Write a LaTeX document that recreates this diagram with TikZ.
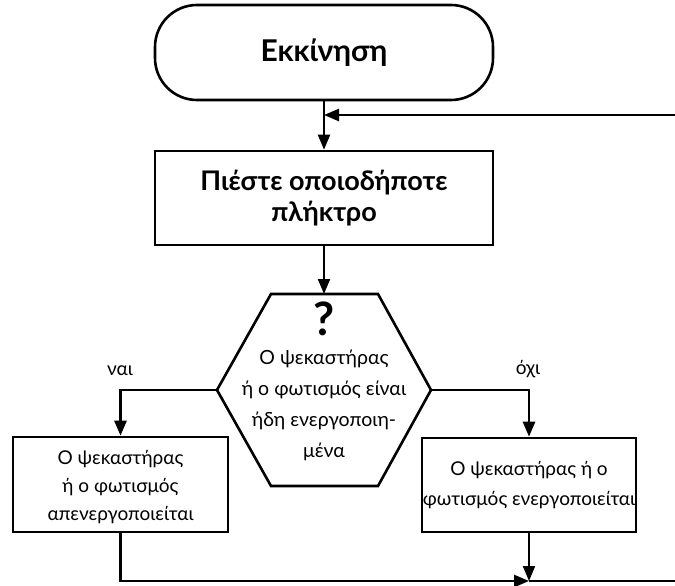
\documentclass[tikz,border=0pt]{standalone}
\usepackage{fontspec}
\setmainfont{Lato}
\usetikzlibrary{arrows.meta}
\begin{document}
\begin{tikzpicture}[x=1pt,y=-1pt,
  line width=2.6pt,
  arr/.style={-{Triangle[length=15pt,width=12pt]}},
  thin line/.style={line width=2pt},
  boxs/.style={draw,line width=2.6pt,inner sep=0pt,align=center},
  txt/.style={font=\fontsize{19}{28}\selectfont,align=center},
  bold/.style={font=\fontsize{27}{31}\selectfont\bfseries,align=center}]
\useasboundingbox (0,0) rectangle (675,586);
% start terminal
\node[boxs,rounded corners=42pt,minimum width=338pt,minimum height=95pt,bold,font=\fontsize{30}{32}\selectfont\bfseries] (start) at (324,52.5) {Εκκίνηση};
% press key box
\node[boxs,minimum width=338pt,minimum height=94pt,bold] (press) at (324,198) {Πιέστε οποιοδήποτε\\πλήκτρο};
% decision hexagon
\coordinate (dc) at (324,390);
\coordinate (hT1) at (271,294);
\coordinate (hT2) at (378,294);
\coordinate (hR) at (431,390);
\coordinate (hB2) at (378,486);
\coordinate (hB1) at (271,486);
\coordinate (hL) at (217,390);
\coordinate (hTop) at (324,294);
\draw[line join=miter] (hT1) -- (hT2) -- (hR) -- (hB2) -- (hB1) -- (hL) -- cycle;
\node[font=\fontsize{46}{46}\selectfont\bfseries] (qm) at (324,319) {?};
\node[txt,font=\fontsize{19.5}{31}\selectfont] (dtext) at (324,405) {Ο ψεκαστήρας\\ή ο φωτισμός είναι\\ήδη ενεργοποιη-\\μένα};
% outcome boxes
\node[boxs,minimum width=215pt,minimum height=95pt,txt] (off) at (120.5,484.5) {\strut Ο ψεκαστήρας\\ή ο φωτισμός\\απενεργοποιείται};
\node[boxs,minimum width=214pt,minimum height=94pt,txt,font=\fontsize{19}{30}\selectfont] (on) at (529,485) {Ο ψεκαστήρας ή ο\\φωτισμός ενεργοποιείται};
% labels
\node[txt] (yes) at (120,371) {ναι};
\node[txt] (no) at (528,369) {όχι};
% connectors
\draw[arr,thin line] (start.south) -- (press.north);
\coordinate (loopin) at (675,115);
\draw[arr] (loopin) -- (start.south |- loopin);
\draw[arr,thin line] (press.south) -- (hTop);
\draw[arr] (hL) -| (off.north);
\draw[arr] (hR) -| (on.north);
\coordinate (merge) at (on.south |- 0,581);
\coordinate (loopout) at (675,581);
\draw[arr] (off.south) |- (merge);
\draw[arr,thin line] (on.south) -- (merge);
\draw (merge) -- (loopout);
\end{tikzpicture}
\end{document}
